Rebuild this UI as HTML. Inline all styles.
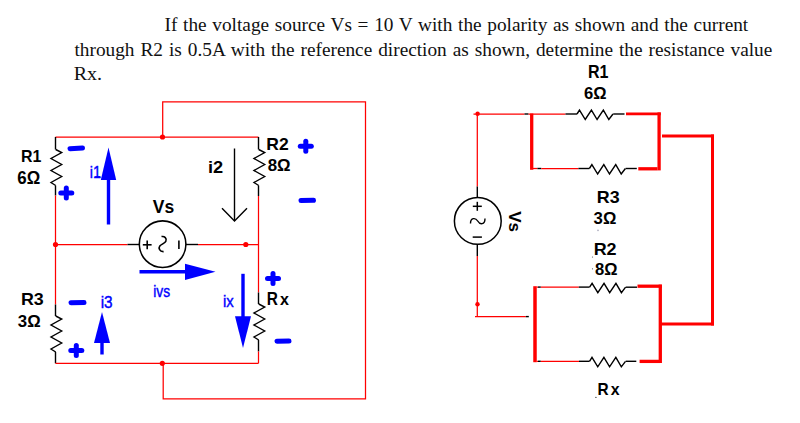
<!DOCTYPE html>
<html><head><meta charset="utf-8"><style>
html,body{margin:0;padding:0;background:#fff;}
body{width:800px;height:423px;overflow:hidden;position:relative;}
svg{position:absolute;left:0;top:0;}
</style></head><body>
<svg width="800" height="423" viewBox="0 0 800 423">
<polyline points="162.7,137 162.7,101.8 365.5,101.8 365.5,398.8 163.2,398.8 163.2,363.3" stroke="#ff0000" stroke-width="1.25" fill="none" stroke-linejoin="miter"/>
<line x1="55.5" y1="137" x2="258.5" y2="137" stroke="#ff0000" stroke-width="1.25" stroke-linecap="butt"/>
<line x1="55.5" y1="137" x2="55.5" y2="149.5" stroke="#000" stroke-width="1.4" stroke-linecap="butt"/>
<polyline points="55.7,149.5 61.7,152.5 51.0,158.5 61.7,164.5 51.0,170.5 61.7,176.5 51.0,182.5 55.7,185.5" stroke="#000" stroke-width="1.4" fill="none" stroke-linejoin="miter"/>
<line x1="55.5" y1="185.5" x2="55.5" y2="195.5" stroke="#000" stroke-width="1.4" stroke-linecap="butt"/>
<line x1="55.5" y1="195.5" x2="55.5" y2="304.5" stroke="#ff0000" stroke-width="1.25" stroke-linecap="butt"/>
<line x1="55.5" y1="304.5" x2="55.5" y2="316" stroke="#000" stroke-width="1.4" stroke-linecap="butt"/>
<polyline points="55.7,316 61.7,319.0 51.0,325.0 61.7,331.0 51.0,337.0 61.7,343.0 51.0,349.0 55.7,352" stroke="#000" stroke-width="1.4" fill="none" stroke-linejoin="miter"/>
<line x1="55.5" y1="352" x2="55.5" y2="363.3" stroke="#000" stroke-width="1.4" stroke-linecap="butt"/>
<line x1="55.5" y1="363.3" x2="258.5" y2="363.3" stroke="#ff0000" stroke-width="1.25" stroke-linecap="butt"/>
<line x1="258.5" y1="137" x2="258.5" y2="149.5" stroke="#000" stroke-width="1.4" stroke-linecap="butt"/>
<polyline points="258.7,149.5 264.7,152.5 254.0,158.5 264.7,164.5 254.0,170.5 264.7,176.5 254.0,182.5 258.7,185.5" stroke="#000" stroke-width="1.4" fill="none" stroke-linejoin="miter"/>
<line x1="258.5" y1="185.5" x2="258.5" y2="196" stroke="#000" stroke-width="1.4" stroke-linecap="butt"/>
<line x1="258.5" y1="196" x2="258.5" y2="292.5" stroke="#ff0000" stroke-width="1.25" stroke-linecap="butt"/>
<line x1="258.5" y1="292.5" x2="258.5" y2="304" stroke="#000" stroke-width="1.4" stroke-linecap="butt"/>
<polyline points="258.7,304 264.7,307.0 254.0,313.0 264.7,319.0 254.0,325.0 264.7,331.0 254.0,337.0 258.7,340" stroke="#000" stroke-width="1.4" fill="none" stroke-linejoin="miter"/>
<line x1="258.5" y1="340" x2="258.5" y2="351.5" stroke="#000" stroke-width="1.4" stroke-linecap="butt"/>
<line x1="258.5" y1="351.5" x2="258.5" y2="363.3" stroke="#ff0000" stroke-width="1.25" stroke-linecap="butt"/>
<line x1="55.5" y1="244.5" x2="127.5" y2="244.5" stroke="#ff0000" stroke-width="1.25" stroke-linecap="butt"/>
<line x1="127.5" y1="244.5" x2="139.5" y2="244.5" stroke="#000" stroke-width="1.4" stroke-linecap="butt"/>
<line x1="186" y1="244.5" x2="198" y2="244.5" stroke="#000" stroke-width="1.4" stroke-linecap="butt"/>
<line x1="198" y1="244.5" x2="258.5" y2="244.5" stroke="#ff0000" stroke-width="1.25" stroke-linecap="butt"/>
<circle cx="162.6" cy="244.2" r="23.3" fill="none" stroke="#000" stroke-width="1.6"/>
<line x1="142.8" y1="244.8" x2="151.6" y2="244.8" stroke="#000" stroke-width="1.6" stroke-linecap="butt"/>
<line x1="147.2" y1="240.4" x2="147.2" y2="249.2" stroke="#000" stroke-width="1.6" stroke-linecap="butt"/>
<line x1="178.9" y1="240.5" x2="178.9" y2="249" stroke="#000" stroke-width="1.6" stroke-linecap="butt"/>
<path d="M161.5,236.6 C164.5,235.8 167.2,238.5 165.8,241.3 C164.8,243.3 161.5,244 159.8,246 C158.3,248 159.5,251.8 163.6,251.6" fill="none" stroke="#000" stroke-width="1.6"/>
<circle cx="162.5" cy="137" r="2.6" fill="#ff0000"/>
<circle cx="55.5" cy="244.5" r="2.6" fill="#ff0000"/>
<circle cx="245.8" cy="244.5" r="2.6" fill="#ff0000"/>
<circle cx="162.3" cy="363.3" r="2.6" fill="#ff0000"/>
<line x1="234.5" y1="148.5" x2="234.5" y2="221" stroke="#000" stroke-width="1.4" stroke-linecap="butt"/>
<polyline points="222,208.2 234.5,221 247,208.2" stroke="#000" stroke-width="1.4" fill="none" stroke-linejoin="miter"/>
<line x1="108.5" y1="178" x2="108.5" y2="224.5" stroke="#0000ff" stroke-width="3.4" stroke-linecap="butt"/>
<polygon points="108.5,147.5 116.2,180 100.8,180" fill="#0000ff"/>
<line x1="102" y1="340" x2="102" y2="354.5" stroke="#0000ff" stroke-width="3.4" stroke-linecap="butt"/>
<polygon points="102,312 110,343 94,343" fill="#0000ff"/>
<line x1="139.5" y1="271.8" x2="187" y2="271.8" stroke="#0000ff" stroke-width="3.4" stroke-linecap="butt"/>
<polygon points="215.5,271.8 185,263.8 185,280" fill="#0000ff"/>
<line x1="243" y1="273.8" x2="243" y2="318" stroke="#0000ff" stroke-width="3.4" stroke-linecap="butt"/>
<polygon points="243,348 235,316.2 251,316.2" fill="#0000ff"/>
<line x1="70" y1="148.7" x2="82.5" y2="148" stroke="#0000ff" stroke-width="5" stroke-linecap="round"/>
<line x1="60.8" y1="193.1" x2="71.8" y2="193.1" stroke="#0000ff" stroke-width="5" stroke-linecap="round"/>
<line x1="66.3" y1="188.1" x2="66.3" y2="198.1" stroke="#0000ff" stroke-width="5" stroke-linecap="round"/>
<line x1="300.3" y1="146.3" x2="311.3" y2="146.3" stroke="#0000ff" stroke-width="5" stroke-linecap="round"/>
<line x1="305.8" y1="141.3" x2="305.8" y2="151.3" stroke="#0000ff" stroke-width="5" stroke-linecap="round"/>
<line x1="301" y1="200.6" x2="313.5" y2="200.3" stroke="#0000ff" stroke-width="5" stroke-linecap="round"/>
<line x1="267.5" y1="278.5" x2="278.5" y2="278.5" stroke="#0000ff" stroke-width="5" stroke-linecap="round"/>
<line x1="273" y1="273.5" x2="273" y2="283.5" stroke="#0000ff" stroke-width="5" stroke-linecap="round"/>
<line x1="277" y1="341.3" x2="289" y2="341.1" stroke="#0000ff" stroke-width="5" stroke-linecap="round"/>
<line x1="71" y1="302.8" x2="84" y2="302.5" stroke="#0000ff" stroke-width="5" stroke-linecap="round"/>
<line x1="70.8" y1="350.6" x2="81.8" y2="350.6" stroke="#0000ff" stroke-width="5" stroke-linecap="round"/>
<line x1="76.3" y1="345.6" x2="76.3" y2="355.6" stroke="#0000ff" stroke-width="5" stroke-linecap="round"/>
<text transform="translate(21.06,162.3) scale(0.9968,1.0326)" font-family="Liberation Sans" font-weight="bold" font-size="16" fill="#000">R1</text>
<text transform="translate(17.31,183.6) scale(1.0547,1.1161)" font-family="Liberation Sans" font-weight="bold" font-size="16" fill="#000">6Ω</text>
<text transform="translate(266.36,150.4) scale(1.0957,1.0179)" font-family="Liberation Sans" font-weight="bold" font-size="16" fill="#000">R2</text>
<text transform="translate(267.69,171.2) scale(1.0554,1.0268)" font-family="Liberation Sans" font-weight="bold" font-size="16" fill="#000">8Ω</text>
<text transform="translate(152.72,212.7) scale(1.0951,1.1051)" font-family="Liberation Sans" font-weight="bold" font-size="16" fill="#000">Vs</text>
<text transform="translate(207.93,173) scale(1.1379,1.0431)" font-family="Liberation Sans" font-weight="bold" font-size="16" fill="#000">i2</text>
<text transform="translate(20.94,305.3) scale(1.1170,1.0179)" font-family="Liberation Sans" font-weight="bold" font-size="16" fill="#000">R3</text>
<text transform="translate(17.78,326.6) scale(1.0514,1.0893)" font-family="Liberation Sans" font-weight="bold" font-size="16" fill="#000">3Ω</text>
<text transform="translate(266.70,305.3) scale(0.9646,1.1040)" font-family="Liberation Sans" font-weight="bold" font-size="16" fill="#000">R</text>
<text transform="translate(279.94,305.3) scale(1.0047,1.0495)" font-family="Liberation Sans" font-weight="bold" font-size="16" fill="#000">x</text>
<text transform="translate(89.76,177.7) scale(0.8749,1.0449)" font-family="Liberation Sans" font-weight="normal" font-size="16.5" fill="#0000ff" stroke="#0000ff" stroke-width="0.4">i1</text>
<text transform="translate(100.70,307.6) scale(0.9317,1.0282)" font-family="Liberation Sans" font-weight="normal" font-size="16.5" fill="#0000ff" stroke="#0000ff" stroke-width="0.4">i3</text>
<text transform="translate(153.20,296.6) scale(0.8387,1.0199)" font-family="Liberation Sans" font-weight="normal" font-size="16.5" fill="#0000ff" stroke="#0000ff" stroke-width="0.4">ivs</text>
<text transform="translate(223.03,307.4) scale(0.9020,0.9948)" font-family="Liberation Sans" font-weight="normal" font-size="16.5" fill="#0000ff" stroke="#0000ff" stroke-width="0.4">ix</text>
<line x1="477.3" y1="114" x2="477.3" y2="186.5" stroke="#ff0000" stroke-width="1.25" stroke-linecap="butt"/>
<line x1="477.3" y1="186.5" x2="477.3" y2="197.5" stroke="#000" stroke-width="1.4" stroke-linecap="butt"/>
<circle cx="477.8" cy="220.9" r="23.4" fill="none" stroke="#000" stroke-width="1.5"/>
<line x1="477.3" y1="244.5" x2="477.3" y2="256" stroke="#000" stroke-width="1.4" stroke-linecap="butt"/>
<line x1="477.3" y1="256" x2="477.3" y2="316.6" stroke="#ff0000" stroke-width="1.25" stroke-linecap="butt"/>
<line x1="475" y1="316.6" x2="525.8" y2="316.6" stroke="#ff0000" stroke-width="1.25" stroke-linecap="butt"/>
<line x1="525.8" y1="316.6" x2="528.8" y2="316.6" stroke="#000" stroke-width="1.4" stroke-linecap="butt"/>
<circle cx="477.6" cy="113.7" r="2.2" fill="#ff0000"/>
<circle cx="477.5" cy="304.3" r="2.2" fill="#ff0000"/>
<line x1="472.8" y1="206.3" x2="481.8" y2="206.3" stroke="#000" stroke-width="1.5" stroke-linecap="butt"/>
<line x1="477.3" y1="201.8" x2="477.3" y2="210.8" stroke="#000" stroke-width="1.5" stroke-linecap="butt"/>
<line x1="472.7" y1="237.1" x2="481.9" y2="237.1" stroke="#000" stroke-width="1.5" stroke-linecap="butt"/>
<path d="M470.5,223.5 C470.5,217.5 475.5,217.5 477.7,221 C480,225 485,225 485,218.5" fill="none" stroke="#000" stroke-width="1.4"/>
<text transform="translate(508.9,211.13) rotate(90) scale(1.0577,1.0870)" font-family="Liberation Sans" font-weight="bold" font-size="16" fill="#000">Vs</text>
<line x1="473.5" y1="114" x2="524.5" y2="114" stroke="#ff0000" stroke-width="1.25" stroke-linecap="butt"/>
<line x1="524.5" y1="114" x2="528.5" y2="114" stroke="#000" stroke-width="1.4" stroke-linecap="butt"/>
<line x1="528.5" y1="114" x2="565.5" y2="114" stroke="#ff0000" stroke-width="1.25" stroke-linecap="butt"/>
<line x1="531.7" y1="113.5" x2="531.7" y2="169.8" stroke="#ff0000" stroke-width="3.3" stroke-linecap="butt"/>
<line x1="565.5" y1="114" x2="577" y2="114" stroke="#000" stroke-width="1.4" stroke-linecap="butt"/>
<polyline points="577,114 579.49,110.1 585.25,119.5 591.42,110.1 597.09,119.5 603.35,110.1 608.82,119.5 613,114" stroke="#000" stroke-width="1.4" fill="none" stroke-linejoin="miter"/>
<line x1="613.2" y1="114" x2="624.5" y2="114" stroke="#000" stroke-width="1.4" stroke-linecap="butt"/>
<line x1="626" y1="113.85" x2="660.8" y2="113.85" stroke="#ff0000" stroke-width="2.9" stroke-linecap="butt"/>
<line x1="659.1" y1="112.4" x2="659.1" y2="170.4" stroke="#ff0000" stroke-width="3.3" stroke-linecap="butt"/>
<line x1="533" y1="168.5" x2="537.4" y2="168.5" stroke="#ff0000" stroke-width="1.25" stroke-linecap="butt"/>
<line x1="537.4" y1="168.5" x2="541.3" y2="168.5" stroke="#000" stroke-width="1.4" stroke-linecap="butt"/>
<line x1="541.3" y1="168.5" x2="578.4" y2="168.5" stroke="#ff0000" stroke-width="1.25" stroke-linecap="butt"/>
<line x1="578.4" y1="168.5" x2="589.4" y2="168.5" stroke="#000" stroke-width="1.4" stroke-linecap="butt"/>
<polyline points="589.4,168.5 591.89,164.6 597.65,174.0 603.82,164.6 609.49,174.0 615.75,164.6 621.22,174.0 625.4,168.5" stroke="#000" stroke-width="1.4" fill="none" stroke-linejoin="miter"/>
<line x1="625.6" y1="168.5" x2="636.8" y2="168.5" stroke="#000" stroke-width="1.4" stroke-linecap="butt"/>
<line x1="638.3" y1="168.8" x2="657.5" y2="168.8" stroke="#ff0000" stroke-width="3.3" stroke-linecap="butt"/>
<line x1="662" y1="136" x2="714" y2="136" stroke="#ff0000" stroke-width="3.0" stroke-linecap="butt"/>
<line x1="712.5" y1="134.5" x2="712.5" y2="325.5" stroke="#ff0000" stroke-width="3.0" stroke-linecap="butt"/>
<line x1="535" y1="286.2" x2="535" y2="362.2" stroke="#ff0000" stroke-width="3.5" stroke-linecap="butt"/>
<line x1="536.7" y1="287.1" x2="538" y2="287.1" stroke="#ff0000" stroke-width="1.25" stroke-linecap="butt"/>
<line x1="538" y1="287.1" x2="540.8" y2="287.1" stroke="#000" stroke-width="1.4" stroke-linecap="butt"/>
<line x1="540.8" y1="287.1" x2="578.8" y2="287.1" stroke="#ff0000" stroke-width="1.25" stroke-linecap="butt"/>
<line x1="578.8" y1="287.1" x2="589.6" y2="287.1" stroke="#000" stroke-width="1.4" stroke-linecap="butt"/>
<polyline points="589.6,287.2 592.09,283.3 597.85,292.7 604.02,283.3 609.69,292.7 615.95,283.3 621.42,292.7 625.6,287.2" stroke="#000" stroke-width="1.4" fill="none" stroke-linejoin="miter"/>
<line x1="625.8" y1="287.2" x2="637" y2="287.2" stroke="#000" stroke-width="1.4" stroke-linecap="butt"/>
<line x1="637.5" y1="286.2" x2="661.8" y2="286.2" stroke="#ff0000" stroke-width="3.3" stroke-linecap="butt"/>
<line x1="660.3" y1="284.6" x2="660.3" y2="363" stroke="#ff0000" stroke-width="3.3" stroke-linecap="butt"/>
<line x1="536.7" y1="361.3" x2="538" y2="361.3" stroke="#ff0000" stroke-width="1.25" stroke-linecap="butt"/>
<line x1="538" y1="361.3" x2="540.8" y2="361.3" stroke="#000" stroke-width="1.4" stroke-linecap="butt"/>
<line x1="540.8" y1="361.3" x2="579" y2="361.3" stroke="#ff0000" stroke-width="1.25" stroke-linecap="butt"/>
<line x1="579" y1="361.3" x2="589.5" y2="361.3" stroke="#000" stroke-width="1.4" stroke-linecap="butt"/>
<polyline points="589.5,361.3 591.99,357.4 597.75,366.8 603.92,357.4 609.59,366.8 615.85,357.4 621.32,366.8 625.5,361.3" stroke="#000" stroke-width="1.4" fill="none" stroke-linejoin="miter"/>
<line x1="625.7" y1="361.3" x2="636.3" y2="361.3" stroke="#000" stroke-width="1.4" stroke-linecap="butt"/>
<line x1="639.6" y1="361.4" x2="660.3" y2="361.4" stroke="#ff0000" stroke-width="3.3" stroke-linecap="butt"/>
<line x1="660.3" y1="324" x2="714" y2="324" stroke="#ff0000" stroke-width="3.0" stroke-linecap="butt"/>
<line x1="95.2" y1="176.9" x2="100.2" y2="176.9" stroke="#0000ff" stroke-width="1.6" stroke-linecap="butt"/>
<text transform="translate(587.96,77.5) scale(1.0021,1.0960)" font-family="Liberation Sans" font-weight="bold" font-size="16" fill="#000">R1</text>
<text transform="translate(584.12,98.8) scale(1.0400,1.0804)" font-family="Liberation Sans" font-weight="bold" font-size="16" fill="#000">6Ω</text>
<text transform="translate(596.84,202.9) scale(1.1170,0.9821)" font-family="Liberation Sans" font-weight="bold" font-size="16" fill="#000">R3</text>
<text transform="translate(593.58,223.8) scale(1.0465,1.0446)" font-family="Liberation Sans" font-weight="bold" font-size="16" fill="#000">3Ω</text>
<text transform="translate(593.63,254.5) scale(1.1223,1.0446)" font-family="Liberation Sans" font-weight="bold" font-size="16" fill="#000">R2</text>
<text transform="translate(595.10,275.2) scale(1.0360,1.0446)" font-family="Liberation Sans" font-weight="bold" font-size="16" fill="#000">8Ω</text>
<text transform="translate(597.50,394.7) scale(0.9646,1.0858)" font-family="Liberation Sans" font-weight="bold" font-size="16" fill="#000">R</text>
<text transform="translate(610.64,394.7) scale(0.9930,1.0259)" font-family="Liberation Sans" font-weight="bold" font-size="16" fill="#000">x</text>
<circle cx="592.5" cy="257" r="0.6" fill="#555"/>
<circle cx="592.5" cy="268.8" r="0.6" fill="#555"/>
<circle cx="595.9" cy="397.4" r="0.7" fill="#444"/>
<circle cx="598" cy="230.4" r="0.8" fill="#aab"/>
<text transform="translate(164.53,30.7) scale(1.0000,1.03)" font-family="Liberation Serif" font-size="19.3" word-spacing="0.872" fill="#111">If the voltage source Vs = 10 V with the polarity as shown and the current</text>
<text transform="translate(74.51,55.5) scale(1.0000,1.03)" font-family="Liberation Serif" font-size="19.3" word-spacing="1.150" fill="#111">through R2 is 0.5A with the reference direction as shown, determine the resistance value</text>
<text transform="translate(73.65,79.6) scale(1.0382,1.03)" font-family="Liberation Serif" font-size="19.3" word-spacing="0.000" fill="#111">Rx.</text>
</svg>
</body></html>
